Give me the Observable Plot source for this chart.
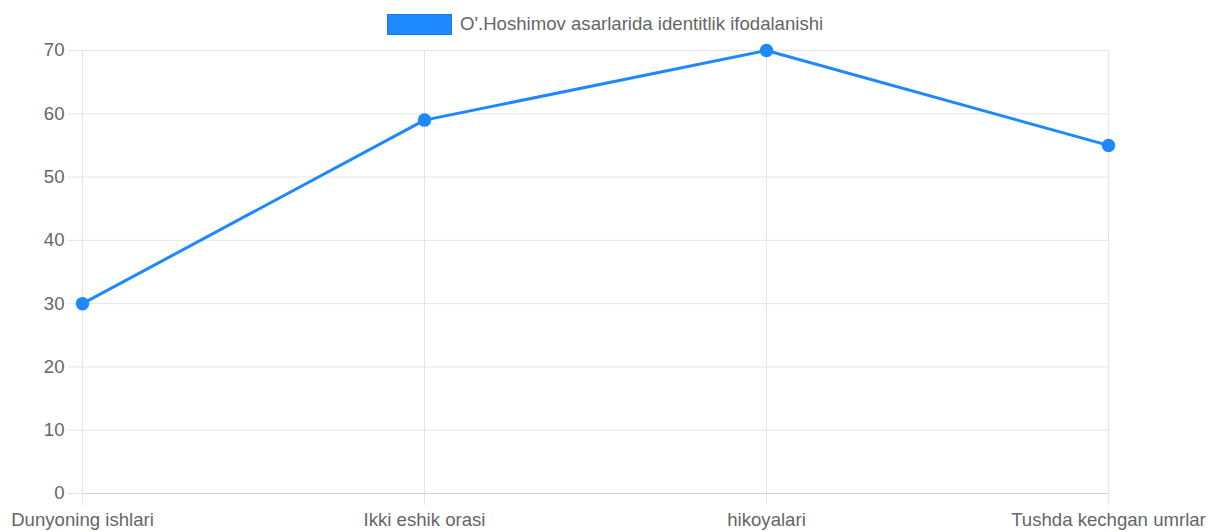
<!DOCTYPE html>
<html>
<head>
<meta charset="utf-8">
<script src="https://cdn.jsdelivr.net/npm/d3@7"></script>
<script src="https://cdn.jsdelivr.net/npm/@observablehq/plot@0.6"></script>
<style>
  html, body { margin: 0; padding: 0; background: #fff; }
  #wrap { position: relative; width: 1208px; height: 532px; font-family: "Liberation Sans", Arial, sans-serif; }
  #legend { position: absolute; left: 0; top: 0; width: 1208px; height: 40px; }
  #legend .box { position: absolute; left: 387px; top: 14px; width: 63px; height: 19px; background: #1e88ff; border: 1px solid #1a7ae6; }
  #legend .lab { position: absolute; left: 460px; top: 13px; font-size: 18.6px; color: #666; line-height: 22px; white-space: nowrap; }
  #chart { position: absolute; left: 0; top: 40px; }
</style>
</head>
<body>
<div id="wrap">
  <div id="legend"><div class="box"></div><div class="lab" id="seriesName"></div></div>
  <div id="chart"></div>
</div>
<script>
const seriesName = "O'.Hoshimov asarlarida identitlik ifodalanishi";
const categories = ["Dunyoning ishlari", "Ikki eshik orasi", "hikoyalari", "Tushda kechgan umrlar"];
const values = [30, 59, 70, 55];
const yTicks = [0, 10, 20, 30, 40, 50, 60, 70];

document.getElementById("seriesName").textContent = seriesName;
const data = categories.map((c, i) => ({category: c, value: values[i]}));

const lineColor = "#1e88ff";
const gridColor = "#e5e5e5";
const chart = Plot.plot({
  width: 1208,
  height: 492,
  marginTop: 10,
  marginBottom: 39,
  marginLeft: 82,
  marginRight: 100,
  style: {fontFamily: "'Liberation Sans', Arial, sans-serif", fontSize: "18.6px", color: "#666", background: "#fff"},
  x: {type: "point", domain: categories, padding: 0, label: null},
  y: {domain: [0, 70], ticks: yTicks, label: null},
  marks: [
    Plot.gridY(yTicks, {stroke: gridColor, strokeOpacity: 1}),
    Plot.gridX(categories, {stroke: gridColor, strokeOpacity: 1}),
    Plot.ruleY([0], {stroke: "#d0d0d0"}),
    Plot.axisY(yTicks, {tickSize: 14, tickPadding: 4, stroke: gridColor, strokeOpacity: 1, fill: "#666", fontSize: 18.6}),
    Plot.axisX(categories, {tickSize: 12, tickPadding: 7, stroke: gridColor, strokeOpacity: 1, fill: "#666", fontSize: 18.6}),
    Plot.line(data, {x: "category", y: "value", stroke: lineColor, strokeWidth: 3}),
    Plot.dot(data, {x: "category", y: "value", r: 6, fill: lineColor, stroke: lineColor})
  ]
});
document.getElementById("chart").appendChild(chart);
</script>
</body>
</html>
